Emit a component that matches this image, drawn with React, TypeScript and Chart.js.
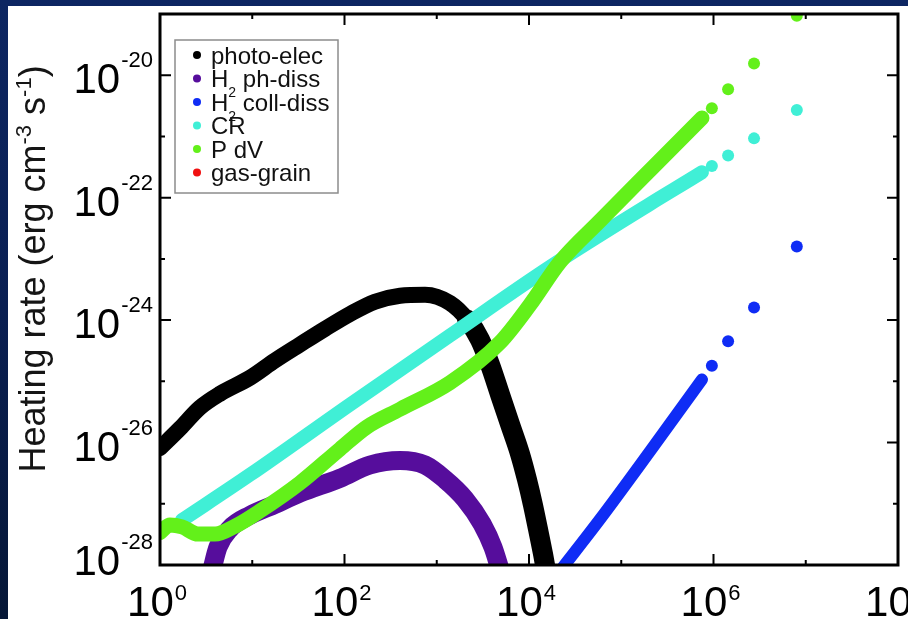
import React, { useEffect, useRef } from "react";
import { Chart, registerables } from "chart.js";

Chart.register(...registerables);

// ---- heating channels (x dimensionless, heating rate in erg cm^-3 s^-1) ----
const photoElecX = [1, 1.65, 2.7, 4.5, 9.5, 17.7, 33, 61.5, 115, 214, 400, 746, 1390, 2130, 2940, 3780, 4850, 6220, 8000, 9500, 11000, 12500, 14200, 15300];
const photoElecY = [8.1e-27, 1.7e-26, 3.7e-26, 6.3e-26, 1.15e-25, 2.2e-25, 4.0e-25, 7.2e-25, 1.26e-24, 2.0e-24, 2.5e-24, 2.6e-24, 1.9e-24, 1.03e-24, 4.8e-25, 1.87e-25, 6.1e-26, 2.0e-26, 6.5e-27, 2.5e-27, 9.8e-28, 3.9e-28, 1.5e-28, 8e-29];

const h2PhDissX = [3.66, 4.25, 5.7, 9.5, 17.7, 33, 89, 189, 400, 746, 1230, 2020, 3100, 4070, 4850];
const h2PhDissY = [8.5e-29, 1.95e-28, 3.9e-28, 6.5e-28, 9.8e-28, 1.5e-27, 2.6e-27, 4.3e-27, 5.1e-27, 4.3e-27, 2.5e-27, 1.2e-27, 4.7e-28, 1.95e-28, 8.5e-29];

const h2CollDissX = [21700, 58900, 2.05e5, 7.5e5];
const h2CollDissY = [8e-29, 5.6e-28, 7.2e-27, 1.07e-25];

const crX = [1.73, 9.5, 115, 1390, 16900, 2.05e5, 7.5e5];
const crY = [5.4e-28, 3.0e-27, 4.2e-26, 5.6e-25, 7.4e-24, 7.9e-23, 2.6e-22];

const pdvX = [1, 1.28, 1.73, 2.58, 3.95, 6.5, 12.1, 33, 89, 175, 400, 1390, 4850, 10250, 21700, 58900, 2.05e5, 7.5e5];
const pdvY = [3.4e-28, 4.5e-28, 4.2e-28, 3.2e-28, 3.2e-28, 4.3e-28, 7.6e-28, 2.2e-27, 7.8e-27, 1.8e-26, 3.5e-26, 9.5e-26, 4.3e-25, 1.78e-24, 8.9e-24, 4.2e-23, 2.8e-22, 2.0e-21];

// sparse final outputs, shown as separate dots
const tailX = [9.6e5, 1.44e6, 2.75e6, 8.0e6];
const h2CollDissTailY = [1.8e-25, 4.5e-25, 1.6e-24, 1.6e-23];
const crTailY = [3.3e-22, 4.9e-22, 9.3e-22, 2.7e-21];
const pdvTailY = [2.9e-21, 5.9e-21, 1.55e-20, 9.4e-20];

const gasGrainX: number[] = [];
const gasGrainY: number[] = [];

// ---- axes ----
const xDecades = [0, 1, 2, 3, 4, 5, 6, 7, 8];
const xLabelDecades = [0, 2, 4, 6, 8];
const yDecades = [-28, -27, -26, -25, -24, -23, -22, -21, -20, -19];
const yLabelDecades = [-28, -26, -24, -22, -20];

const FONT = '"Liberation Sans", Arial, Helvetica, sans-serif';

const pts = (xs: number[], ys: number[]) => xs.map((x, i) => ({ x, y: ys[i] }));

type Series = {
  label: string;
  color: string;
  xs: number[];
  ys: number[];
  tail: number[];
  width: number;
  // index after which the band spreads out (wider scatter)
  wideFrom: number;
  wideWidth: number;
  order: number;
};

const series: Series[] = [
  { label: "photo-elec", color: "#000000", xs: photoElecX, ys: photoElecY, tail: [], width: 16, wideFrom: 13, wideWidth: 20, order: 3 },
  { label: "H\u2082 ph-diss", color: "#560d9c", xs: h2PhDissX, ys: h2PhDissY, tail: [], width: 19, wideFrom: 99, wideWidth: 19, order: 4 },
  { label: "H\u2082 coll-diss", color: "#0f2cf5", xs: h2CollDissX, ys: h2CollDissY, tail: h2CollDissTailY, width: 12, wideFrom: 99, wideWidth: 12, order: 2 },
  { label: "CR", color: "#40efd6", xs: crX, ys: crY, tail: crTailY, width: 14, wideFrom: 99, wideWidth: 14, order: 1 },
  { label: "P dV", color: "#63f01a", xs: pdvX, ys: pdvY, tail: pdvTailY, width: 15, wideFrom: 99, wideWidth: 15, order: 0 },
  { label: "gas-grain", color: "#f01010", xs: gasGrainX, ys: gasGrainY, tail: [], width: 12, wideFrom: 99, wideWidth: 12, order: 5 },
];

function drawPower(ctx: CanvasRenderingContext2D, exp: string, x: number, baseline: number, align: "center" | "right", rise: number) {
  ctx.font = `42px ${FONT}`;
  const wb = ctx.measureText("10").width;
  ctx.font = `22px ${FONT}`;
  const ws = ctx.measureText(exp).width;
  const total = wb + 1 + ws;
  const left = align === "right" ? x - total : x - total / 2;
  ctx.textAlign = "left";
  ctx.textBaseline = "alphabetic";
  ctx.font = `42px ${FONT}`;
  ctx.fillText("10", left, baseline);
  ctx.font = `22px ${FONT}`;
  ctx.fillText(exp, left + wb + 1, baseline - rise);
}

const decorPlugin = {
  id: "decor",
  beforeDraw(chart: any) {
    const ctx: CanvasRenderingContext2D = chart.ctx;
    ctx.save();
    ctx.fillStyle = "#ffffff";
    ctx.fillRect(0, 0, chart.width, chart.height);
    ctx.restore();
  },
  afterDraw(chart: any) {
    const ctx: CanvasRenderingContext2D = chart.ctx;
    const a = chart.chartArea;
    const xs = chart.scales.x;
    const ys = chart.scales.y;
    ctx.save();
    ctx.fillStyle = "#000";
    ctx.strokeStyle = "#000";

    // ticks on all four sides, pointing inward
    ctx.lineWidth = 2;
    ctx.beginPath();
    xDecades.forEach((e) => {
      const px = xs.getPixelForValue(Math.pow(10, e));
      const len = e % 2 === 0 ? 11 : 5;
      ctx.moveTo(px, a.bottom);
      ctx.lineTo(px, a.bottom - len);
      ctx.moveTo(px, a.top);
      ctx.lineTo(px, a.top + len);
    });
    yDecades.forEach((e) => {
      const py = ys.getPixelForValue(Math.pow(10, e));
      const len = e % 2 === 0 ? 11 : 5;
      ctx.moveTo(a.left, py);
      ctx.lineTo(a.left + len, py);
      ctx.moveTo(a.right, py);
      ctx.lineTo(a.right - len, py);
    });
    ctx.stroke();

    // frame
    ctx.lineWidth = 3;
    ctx.strokeRect(a.left, a.top, a.right - a.left, a.bottom - a.top);

    // tick labels
    xLabelDecades.forEach((e) => {
      const px = xs.getPixelForValue(Math.pow(10, e));
      drawPower(ctx, String(e), px - 3, 610, "center", 16);
    });
    yLabelDecades.forEach((e) => {
      const py = ys.getPixelForValue(Math.pow(10, e));
      const base = e === yLabelDecades[0] ? py + 10 : py + 18;
      drawPower(ctx, String(e), a.left - 7, base, "right", 26);
    });

    // y-axis title
    ctx.save();
    ctx.translate(37, 263);
    ctx.rotate(-Math.PI / 2);
    ctx.fillStyle = "#151515";
    const parts: [string, boolean][] = [
      ["Heating rate (erg cm", false],
      ["-3", true],
      [" s", false],
      ["-1", true],
      [")", false],
    ];
    const widths = parts.map(([t, sup]) => {
      ctx.font = `${sup ? 22 : 36}px ${FONT}`;
      return ctx.measureText(t).width;
    });
    let cx = -widths.reduce((s, w) => s + w, 0) / 2;
    ctx.textBaseline = "alphabetic";
    ctx.textAlign = "left";
    parts.forEach(([t, sup], i) => {
      ctx.font = `${sup ? 22 : 36}px ${FONT}`;
      ctx.fillText(t, cx, sup ? -14 : 0);
      cx += widths[i];
    });
    ctx.restore();

    // legend
    const lx = 167, ly = 34, lw = 163, lh = 153;
    ctx.fillStyle = "#ffffff";
    ctx.fillRect(lx, ly, lw, lh);
    ctx.strokeStyle = "#8c8c8c";
    ctx.lineWidth = 1.5;
    ctx.strokeRect(lx, ly, lw, lh);
    chart.data.datasets.forEach((ds: any, i: number) => {
      const base = 57.5 + 23.5 * i;
      ctx.fillStyle = ds.backgroundColor;
      ctx.beginPath();
      ctx.arc(189, base - 8.5, 4, 0, Math.PI * 2);
      ctx.fill();
      ctx.fillStyle = "#111";
      ctx.textAlign = "left";
      ctx.textBaseline = "alphabetic";
      const segs = String(ds.label).split("\u2082");
      let tx = 203;
      segs.forEach((s, k) => {
        if (k > 0) {
          ctx.font = `14px ${FONT}`;
          ctx.fillText("2", tx, base + 10);
          tx += ctx.measureText("2").width;
        }
        ctx.font = `24px ${FONT}`;
        ctx.fillText(s, tx, base);
        tx += ctx.measureText(s).width;
      });
    });
    ctx.restore();
  },
};

export default function App() {
  const ref = useRef<HTMLCanvasElement>(null);

  useEffect(() => {
    const canvas = ref.current;
    if (!canvas) return;
    const datasets = series.map((s) => {
      const dense = s.xs.length;
      const tailPts = s.tail.length ? pts(tailX, s.tail) : [];
      return {
        label: s.label,
        data: [...pts(s.xs, s.ys), ...tailPts],
        showLine: true,
        borderColor: s.color,
        backgroundColor: s.color,
        borderWidth: s.width,
        borderCapStyle: "round" as const,
        borderJoinStyle: "round" as const,
        cubicInterpolationMode: "monotone" as const,
        pointRadius: (c: any) => (c.dataIndex >= dense ? 6 : 0),
        pointHoverRadius: 0,
        pointBorderWidth: 0,
        pointBackgroundColor: s.color,
        segment: {
          borderColor: (c: any) => (c.p0DataIndex >= dense - 1 ? "rgba(0,0,0,0)" : undefined),
          borderWidth: (c: any) => (c.p0DataIndex >= s.wideFrom ? s.wideWidth : undefined),
        },
        clip: 0,
        order: s.order,
      };
    });

    const chart = new Chart(canvas, {
      type: "scatter",
      data: { datasets },
      options: {
        animation: false,
        responsive: false,
        devicePixelRatio: 1,
        layout: { padding: { left: 152, top: 8, right: 10, bottom: 54 } },
        scales: {
          x: { type: "logarithmic", min: 1, max: 1e8, display: false },
          y: { type: "logarithmic", min: 1e-28, max: 1e-19, display: false },
        },
        plugins: {
          legend: { display: false },
          tooltip: { enabled: false },
        },
      },
      plugins: [decorPlugin],
    });
    return () => chart.destroy();
  }, []);

  return (
    <div
      style={{
        position: "fixed",
        left: 0,
        top: 0,
        width: 908,
        height: 619,
        overflow: "hidden",
        background: "linear-gradient(180deg, #0d2662 0%, #0a1f52 50%, #061737 100%)",
      }}
    >
      <canvas
        ref={ref}
        width={900}
        height={613}
        style={{ position: "absolute", left: 8, top: 6, width: 900, height: 613, background: "#ffffff" }}
      />
    </div>
  );
}
